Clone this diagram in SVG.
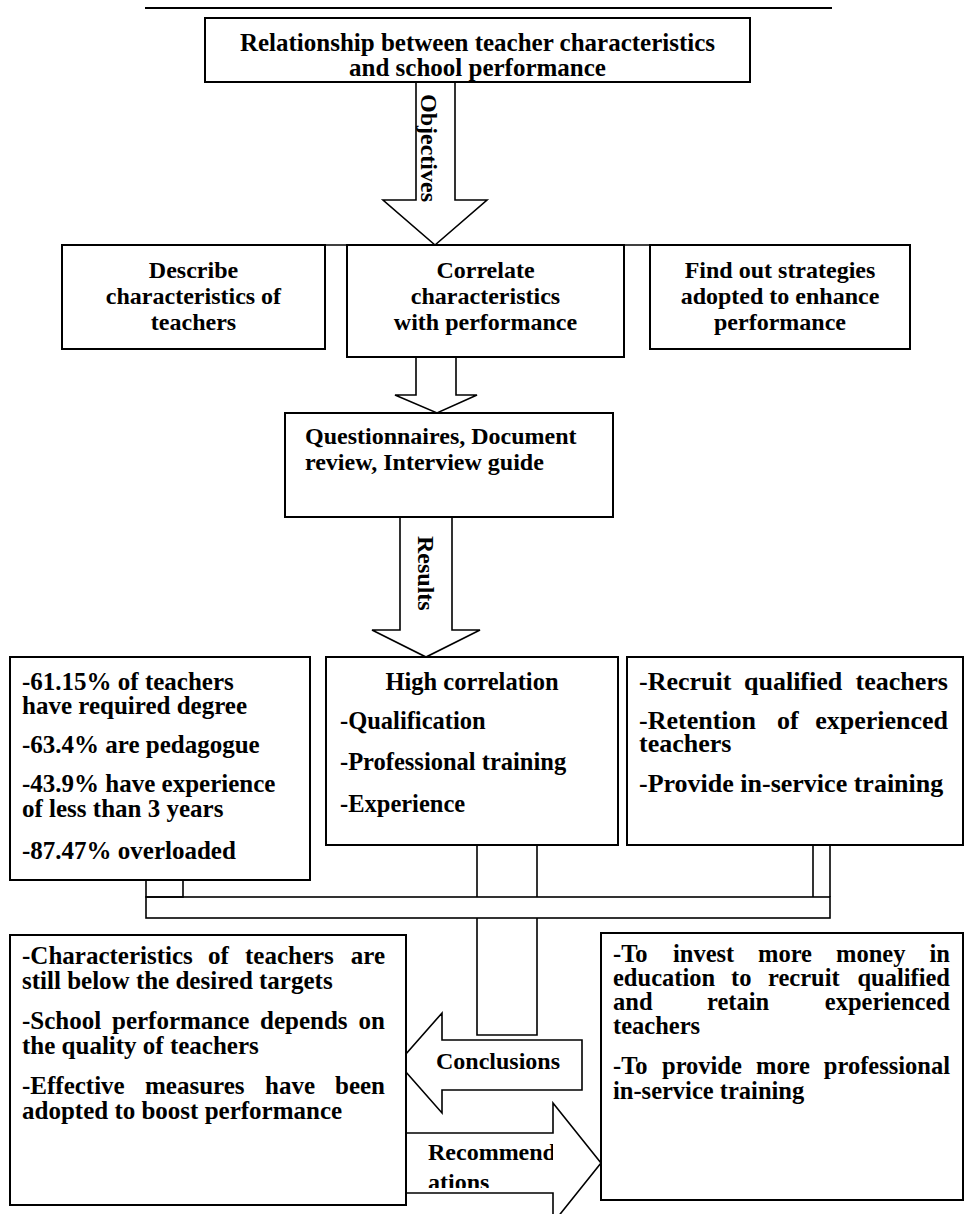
<svg xmlns="http://www.w3.org/2000/svg" width="968" height="1214" viewBox="0 0 968 1214">
<style>
.box{fill:#fff;stroke:#000;stroke-width:2}
.arr{fill:#fff;stroke:#000;stroke-width:1.6;stroke-linejoin:miter}
.ln{fill:none;stroke:#000;stroke-width:1.6}
.t{font-family:"Liberation Serif","Times New Roman",serif;font-weight:bold;font-size:24px;fill:#000}
.l{font-size:25px}
.m{font-size:24.5px}
.r{font-size:26px}
.c{text-anchor:middle}
</style>
<defs>
<clipPath id="recClip"><rect x="406" y="1133" width="147" height="55"/></clipPath>
</defs>
<rect width="968" height="1214" fill="#fff"/>
<line x1="145" y1="8" x2="832" y2="8" stroke="#000" stroke-width="2"/>

<g id="connectors">
  <polygon id="arrow-objectives" class="arr" points="416,82 455,82 455,200 487,200 435,245 383,200 416,200"/>
  <polygon id="arrow-methods" class="arr" points="416,357 456,357 456,395 477,395 437,413 395,395 416,395"/>
  <polygon id="arrow-results" class="arr" points="400,517 452,517 452,630 480,630 426,657 372,630 400,630"/>
  <line class="ln" x1="300" y1="245" x2="690" y2="245" stroke-width="2.4"/>
  <rect class="ln" x="146" y="880" width="37" height="17"/>
  <rect class="ln" x="146" y="897" width="684" height="21"/>
  <polyline class="ln" points="477,845 477,897"/>
  <polyline class="ln" points="537,845 537,897"/>
  <polyline class="ln" points="477,918 477,1035 537,1035 537,918"/>
  <polyline class="ln" points="813,845 813,897"/>
  <polyline class="ln" points="830,845 830,897"/>
  <polygon id="arrow-conclusions" class="arr" points="582,1040 442,1040 442,1013 398,1063 442,1113 442,1090 582,1090"/>
  <polygon id="arrow-recommendations" class="arr" points="406,1133 553,1133 553,1103 601,1163 553,1223 553,1193 406,1193"/>
  <text class="t" transform="translate(421,94) rotate(90)">Objectives</text>
  <text class="t" transform="translate(418,536) rotate(90)">Results</text>
  <text class="t" x="436" y="1069">Conclusions</text>
  <g clip-path="url(#recClip)">
    <text class="t" x="428" y="1160">Recommend</text>
    <text class="t" x="428" y="1190">ations</text>
  </g>
</g>

<g id="title">
  <rect class="box" x="205" y="18" width="545" height="64"/>
  <text class="t l c" x="477.5" y="51">Relationship between teacher characteristics</text>
  <text class="t l c" x="477.5" y="76">and school performance</text>
</g>

<g id="obj-describe">
  <rect class="box" x="62" y="245" width="263" height="104"/>
  <text class="t c" x="193.5" y="278">Describe</text>
  <text class="t c" x="193.5" y="304">characteristics of</text>
  <text class="t c" x="193.5" y="330">teachers</text>
</g>

<g id="obj-correlate">
  <rect class="box" x="347" y="245" width="277" height="112"/>
  <text class="t c" x="485.5" y="278">Correlate</text>
  <text class="t c" x="485.5" y="304">characteristics</text>
  <text class="t c" x="485.5" y="330">with performance</text>
</g>

<g id="obj-strategies">
  <rect class="box" x="650" y="245" width="260" height="104"/>
  <text class="t c" x="780" y="278">Find out strategies</text>
  <text class="t c" x="780" y="304">adopted to enhance</text>
  <text class="t c" x="780" y="330">performance</text>
</g>

<g id="methods">
  <rect class="box" x="285" y="413" width="328" height="104"/>
  <text class="t" x="305" y="444">Questionnaires, Document</text>
  <text class="t" x="305" y="470">review, Interview guide</text>
</g>

<g id="result-characteristics">
  <rect class="box" x="10" y="657" width="300" height="223"/>
  <text class="t l" x="22" y="690">-61.15% of teachers</text>
  <text class="t l" x="22" y="714">have required degree</text>
  <text class="t l" x="22" y="753">-63.4% are pedagogue</text>
  <text class="t l" x="22" y="792">-43.9% have experience</text>
  <text class="t l" x="22" y="817">of less than 3 years</text>
  <text class="t l" x="22" y="859">-87.47% overloaded</text>
</g>

<g id="result-correlation">
  <rect class="box" x="326" y="657" width="292" height="188"/>
  <text class="t m c" x="472" y="690">High correlation</text>
  <text class="t m" x="340" y="729">-Qualification</text>
  <text class="t m" x="340" y="770">-Professional training</text>
  <text class="t m" x="340" y="812">-Experience</text>
</g>

<g id="result-strategies">
  <rect class="box" x="627" y="657" width="336" height="188"/>
  <text class="t r" y="690"><tspan x="639">-Recruit</tspan><tspan x="744">qualified</tspan><tspan x="948" text-anchor="end">teachers</tspan></text>
  <text class="t r" y="729"><tspan x="639">-Retention</tspan><tspan x="777">of</tspan><tspan x="948" text-anchor="end">experienced</tspan></text>
  <text class="t r" x="639" y="752">teachers</text>
  <text class="t r" x="639" y="792">-Provide in-service training</text>
</g>

<g id="conclusions">
  <rect class="box" x="10" y="935" width="396" height="270"/>
  <text class="t l" y="964"><tspan x="22">-Characteristics</tspan><tspan x="208">of</tspan><tspan x="245">teachers</tspan><tspan x="385" text-anchor="end">are</tspan></text>
  <text class="t l" x="22" y="989">still below the desired targets</text>
  <text class="t l" y="1029"><tspan x="22">-School</tspan><tspan x="112">performance</tspan><tspan x="260">depends</tspan><tspan x="385" text-anchor="end">on</tspan></text>
  <text class="t l" x="22" y="1054">the quality of teachers</text>
  <text class="t l" y="1094"><tspan x="22">-Effective</tspan><tspan x="145">measures</tspan><tspan x="265">have</tspan><tspan x="385" text-anchor="end">been</tspan></text>
  <text class="t l" x="22" y="1119">adopted to boost performance</text>
</g>

<g id="recommendations">
  <rect class="box" x="601" y="933" width="362" height="267"/>
  <text class="t m" y="962"><tspan x="613">-To</tspan><tspan x="673">invest</tspan><tspan x="758">more</tspan><tspan x="836">money</tspan><tspan x="950" text-anchor="end">in</tspan></text>
  <text class="t m" y="986"><tspan x="613">education</tspan><tspan x="731">to</tspan><tspan x="768">recruit</tspan><tspan x="950" text-anchor="end">qualified</tspan></text>
  <text class="t m" y="1010"><tspan x="613">and</tspan><tspan x="707">retain</tspan><tspan x="950" text-anchor="end">experienced</tspan></text>
  <text class="t m" x="613" y="1034">teachers</text>
  <text class="t m" y="1074"><tspan x="613">-To</tspan><tspan x="662">provide</tspan><tspan x="756">more</tspan><tspan x="950" text-anchor="end">professional</tspan></text>
  <text class="t m" x="613" y="1099">in-service training</text>
</g>
</svg>
